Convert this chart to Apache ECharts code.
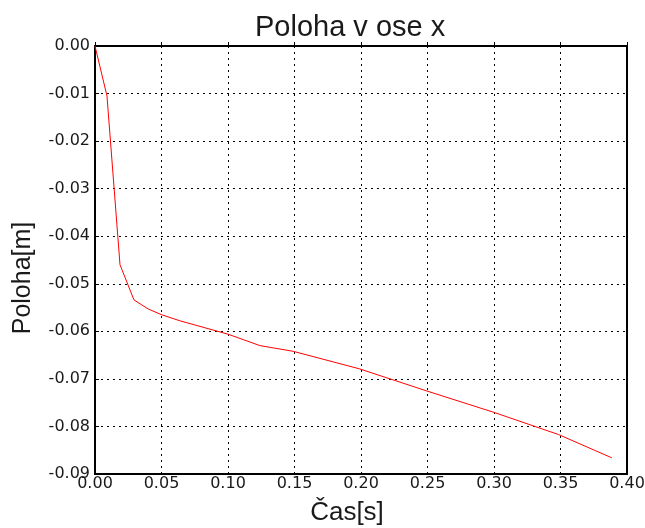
<!DOCTYPE html>
<html>
<head>
<meta charset="utf-8">
<script src="https://cdn.jsdelivr.net/npm/echarts@6/dist/echarts.min.js"></script>
<style>
  html, body { margin: 0; padding: 0; background: #fff; }
  #chart { width: 645px; height: 528px; }
</style>
</head>
<body>
<div id="chart"></div>
<script>
// data
const casS = [0, 0.009, 0.0188, 0.0293, 0.040, 0.050, 0.064, 0.100, 0.124, 0.149, 0.199, 0.249, 0.2995, 0.3485, 0.3886];
const polohaM = [0, -0.0105, -0.046, -0.0534, -0.0553, -0.0565, -0.0578, -0.0606, -0.0630, -0.0642, -0.0679, -0.0725, -0.0770, -0.0817, -0.0866];

const points = casS.map((t, i) => [t, polohaM[i]]);

const chart = echarts.init(document.getElementById('chart'));

const tickFont = 'DejaVu Sans, sans-serif';
const nameFont = 'Liberation Sans, Arial, sans-serif';

chart.setOption({
  backgroundColor: '#fff',
  animation: false,
  textStyle: { fontFamily: tickFont },
  title: {
    text: 'Poloha v ose x',
    left: 250,
    top: 8,
    textStyle: { fontSize: 29, fontWeight: 'normal', color: '#1a1a1a', fontFamily: nameFont }
  },
  grid: {
    left: 95, right: 18, top: 46, bottom: 54,
    outerBoundsMode: 'none',
    show: true, borderColor: '#000', borderWidth: 2, backgroundColor: '#fff'
  },
  xAxis: {
    type: 'value',
    min: 0, max: 0.4, interval: 0.05,
    name: 'Čas[s]',
    nameLocation: 'middle',
    nameGap: 26,
    nameTextStyle: { fontSize: 26, color: '#1a1a1a', fontFamily: nameFont, padding: [0, 28, 0, 0] },
    axisLine: { show: false },
    axisTick: { show: true, inside: true, length: 4, lineStyle: { color: '#000' } },
    axisLabel: { fontSize: 16, color: '#1a1a1a', margin: 2, formatter: v => v.toFixed(2) },
    splitLine: { show: true, lineStyle: { color: '#000', type: [2, 4], width: 1 } }
  },
  yAxis: {
    type: 'value',
    min: -0.09, max: 0, interval: 0.01,
    name: 'Poloha[m]',
    nameLocation: 'middle',
    nameGap: 59,
    nameTextStyle: { fontSize: 25, color: '#1a1a1a', fontFamily: nameFont, padding: [0, 36, 0, 0] },
    axisLine: { show: false },
    axisTick: { show: true, inside: true, length: 4, lineStyle: { color: '#000' } },
    axisLabel: { fontSize: 16, color: '#1a1a1a', margin: 5, formatter: v => v.toFixed(2) },
    splitLine: { show: true, lineStyle: { color: '#000', type: [2, 4], width: 1 } }
  },
  series: [{
    type: 'line',
    data: points,
    showSymbol: false,
    smooth: false,
    lineStyle: { color: '#ff0000', width: 1 },
    itemStyle: { color: '#ff0000' }
  }]
});
</script>
</body>
</html>
